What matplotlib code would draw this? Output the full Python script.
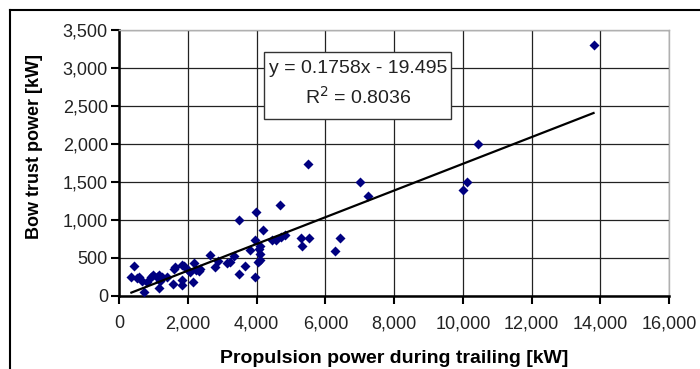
import numpy as np
import matplotlib
matplotlib.use('Agg')
import matplotlib.pyplot as plt
from matplotlib.lines import Line2D
from matplotlib.patches import Rectangle
from matplotlib.ticker import FuncFormatter

plt.rcParams['font.family'] = ['Liberation Sans', 'DejaVu Sans']

# propulsion power during trailing [kW] vs bow thrust power [kW]
propulsion_kw = [360, 450, 530, 590, 680, 720, 820, 920, 1000, 1100,
                 1150, 1160, 1200, 1250, 1400, 1570, 1610, 1640, 1830, 1830,
                 1830, 1880, 2020, 2070, 2150, 2170, 2240, 2340, 2360, 2640,
                 2800, 2880, 3130, 3220, 3330, 3500, 3500, 3660, 3800, 3950,
                 3950, 3990, 4040, 4070, 4090, 4100, 4100, 4200, 4450, 4570,
                 4690, 4720, 4820, 5300, 5320, 5510, 5530, 6280, 6440, 7000,
                 7250, 10000, 10130, 10450, 13800]
bow_thrust_kw = [250, 390, 230, 250, 190, 50, 180, 250, 270, 250,
                 100, 270, 190, 250, 250, 160, 360, 380, 410, 210,
                 150, 400, 340, 320, 180, 430, 340, 330, 360, 540,
                 380, 460, 430, 450, 520, 290, 1000, 400, 600, 250,
                 740, 1110, 450, 620, 660, 550, 470, 870, 730, 740,
                 1200, 780, 800, 760, 660, 1730, 760, 590, 760, 1500,
                 1310, 1400, 1500, 2000, 3300]

slope = 0.1758
intercept = -19.495
r_squared = 0.8036

x_ticks = np.arange(0, 16001, 2000)
y_ticks = np.arange(0, 3501, 500)

fig = plt.figure(figsize=(7, 3.69), dpi=100)
ax = fig.add_axes([0.170, 0.198, 0.786, 0.721])

ax.scatter(propulsion_kw, bow_thrust_kw, marker='D', s=26, color='#000080',
           linewidths=0, zorder=3)

x_fit = np.array([min(propulsion_kw), max(propulsion_kw)])
ax.plot(x_fit, slope * x_fit + intercept, color='black', lw=1.6, zorder=4)

ax.set_xlim(0, 16000)
ax.set_ylim(0, 3500)
ax.set_xticks(x_ticks)
ax.set_yticks(y_ticks)
fmt = FuncFormatter(lambda v, p: f'{int(v):,}')
ax.xaxis.set_major_formatter(fmt)
ax.yaxis.set_major_formatter(fmt)
ax.tick_params(axis='both', labelsize=13, length=6, width=1.5, direction='out',
               color='black', labelcolor='#222222')
ax.tick_params(axis='x', pad=8)
ax.tick_params(axis='y', pad=2)

ax.grid(True, color='#222222', lw=0.9)
ax.set_axisbelow(True)
for side in ['left', 'bottom']:
    ax.spines[side].set_linewidth(1.8)
    ax.spines[side].set_color('black')
for side in ['top', 'right']:
    ax.spines[side].set_color('#b0b0b0')
    ax.spines[side].set_linewidth(1.0)

ax.set_xlabel('Propulsion power during trailing [kW]', fontsize=14,
              fontweight='bold', labelpad=13)
ax.set_ylabel('Bow trust power [kW]', fontsize=13, fontweight='bold',
              family=['Liberation Sans Narrow', 'Liberation Sans'])
ax.yaxis.set_label_coords(-0.138, 0.56)

# equation box
ax.add_patch(Rectangle((0.2636, 0.665), 0.34, 0.252, transform=ax.transAxes,
                       fc='white', ec='#333333', lw=1.0, zorder=5))
ax.text(0.4345, 0.797, f'y = {slope}x - {abs(intercept)}\nR$^2$ = {r_squared}',
        transform=ax.transAxes, ha='center', va='center', fontsize=14,
        multialignment='center', linespacing=1.45, zorder=6, color='#222222')

# chart frame (top and left edge)
fig.add_artist(Line2D([0.014, 1.0], [0.973, 0.973], transform=fig.transFigure,
                      color='black', lw=1.5))
fig.add_artist(Line2D([0.014, 0.014], [0.0, 0.973], transform=fig.transFigure,
                      color='black', lw=1.5))

fig.savefig('out.png', dpi=100)
